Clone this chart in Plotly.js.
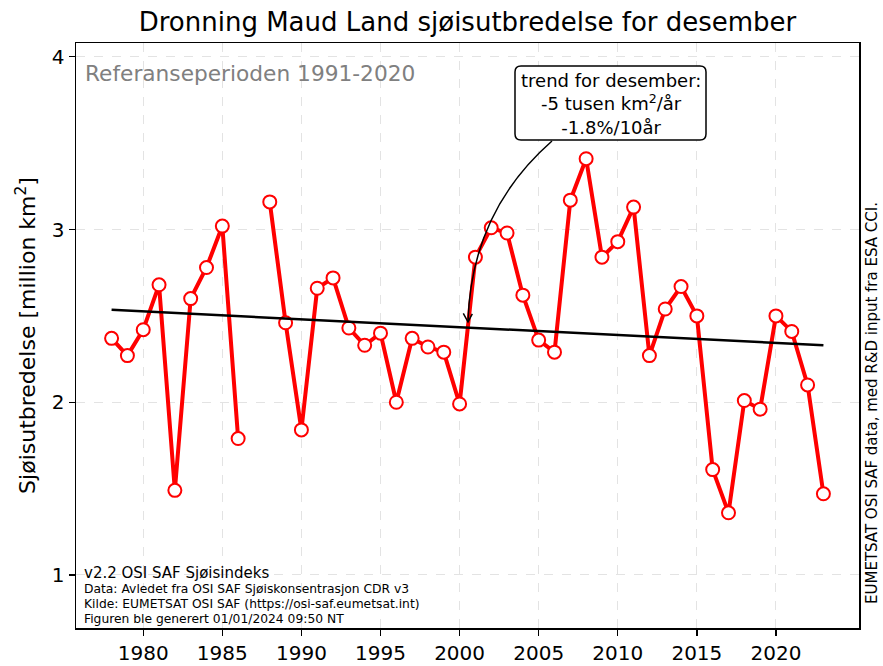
<!DOCTYPE html>
<html>
<head>
<meta charset="utf-8">
<script src="https://cdn.plot.ly/plotly-3.0.1.min.js"></script>
<style>html,body{margin:0;padding:0;background:#fff;}#chart{width:883px;height:666px;}</style>
</head>
<body>
<div id="chart"></div>
<script>
const years = [1978,1979,1980,1981,1982,1983,1984,1985,1986,1987,1988,1989,1990,1991,1992,1993,1994,1995,1996,1997,1998,1999,2000,2001,2002,2003,2004,2005,2006,2007,2008,2009,2010,2011,2012,2013,2014,2015,2016,2017,2018,2019,2020,2021,2022,2023];
const extent = [2.37,2.27,2.42,2.68,1.49,2.60,2.78,3.02,1.79,null,3.16,2.46,1.84,2.66,2.72,2.43,2.33,2.40,2.00,2.37,2.32,2.29,1.99,2.84,3.01,2.98,2.62,2.36,2.29,3.17,3.41,2.84,2.93,3.13,2.27,2.54,2.67,2.50,1.61,1.36,2.01,1.96,2.50,2.41,2.10,1.47];
const trendYears = [1978, 2023];
const trendValues = [2.535, 2.33];
const xTicks = [1980,1985,1990,1995,2000,2005,2010,2015,2020];
const yTicks = [1,2,3,4];

const FONT = 'DejaVu Sans, Verdana, sans-serif';
// pixel -> paper helpers (plot area l=76, r=859, t=43, b=628)
const L=76, R=859, T=43, B=628;
const px = x => (x-L)/(R-L);
const py = y => (B-y)/(B-T);
function P2(x,y){return px(x).toFixed(5)+','+py(y).toFixed(5);}
function roundedBox(x0,y0,x1,y1,r){
  return 'M'+P2(x0+r,y0)+' L'+P2(x1-r,y0)+' Q'+P2(x1,y0)+' '+P2(x1,y0+r)+
         ' L'+P2(x1,y1-r)+' Q'+P2(x1,y1)+' '+P2(x1-r,y1)+
         ' L'+P2(x0+r,y1)+' Q'+P2(x0,y1)+' '+P2(x0,y1-r)+
         ' L'+P2(x0,y0+r)+' Q'+P2(x0,y0)+' '+P2(x0+r,y0)+' Z';
}
const tip=[468,322];
const curve = 'M'+P2(552,141)+' Q'+P2(471,212)+' '+P2(tip[0],tip[1]);
const head = 'M'+P2(tip[0]-4.7,tip[1]-8.7)+' L'+P2(tip[0],tip[1])+' L'+P2(tip[0]+4.3,tip[1]-8.2);

const traces = [
  {x: years, y: extent, type:'scatter', mode:'lines+markers', connectgaps:false,
   line:{color:'#ff0000', width:4},
   marker:{size:13, color:'#ffffff', line:{color:'#ff0000', width:2}},
   hoverinfo:'x+y', showlegend:false},
  {x: trendYears, y: trendValues, type:'scatter', mode:'lines',
   line:{color:'#000000', width:2.5}, showlegend:false, hoverinfo:'skip'}
];

const layout = {
  width:883, height:666,
  margin:{l:L, r:883-R, t:T, b:666-B},
  paper_bgcolor:'#ffffff', plot_bgcolor:'#ffffff',
  font:{family:FONT, color:'#000'},
  title:{text:'Dronning Maud Land sjøisutbredelse for desember', font:{size:26, family:FONT, color:'#000'},
         x:0.5, xref:'paper', xanchor:'center', y:1-22/666, yref:'container', yanchor:'middle'},
  xaxis:{range:[1975.75,2025.25], tickvals:xTicks, ticktext:xTicks.map(String),
         tickfont:{size:20, family:FONT}, ticks:'outside', ticklen:6, tickwidth:1.3, tickcolor:'#000',
         showgrid:true, gridcolor:'#dcdcdc', griddash:'dash', gridwidth:0.8,
         showline:true, linecolor:'#000', linewidth:1.5, mirror:true, zeroline:false},
  yaxis:{range:[0.693,4.08], tickvals:yTicks, ticktext:yTicks.map(String),
         tickfont:{size:20, family:FONT}, ticks:'outside', ticklen:6, tickwidth:1.3, tickcolor:'#000',
         showgrid:true, gridcolor:'#dcdcdc', griddash:'dash', gridwidth:0.8,
         showline:true, linecolor:'#000', linewidth:1.5, mirror:true, zeroline:false,
         title:{text:'Sjøisutbredelse [million km<sup>2</sup>]', font:{size:22, family:FONT}, standoff:10}},
  shapes:[
    {type:'path', xref:'paper', yref:'paper', path:curve, line:{color:'#000', width:1.5}},
    {type:'path', xref:'paper', yref:'paper', path:head, line:{color:'#000', width:1.5}},
    {type:'path', xref:'paper', yref:'paper', path:roundedBox(515,66,706,140,6),
     fillcolor:'#ffffff', line:{color:'#000', width:1.5}}
  ],
  annotations:[
    {xref:'paper', yref:'paper', x:px(610.5), y:py(104), xanchor:'center', yanchor:'middle',
     text:'trend for desember:<br>-5 tusen km<sup>2</sup>/år<br>-1.8%/10år', showarrow:false,
     font:{size:18, family:FONT, color:'#000'}, align:'center'},
    {xref:'paper', yref:'paper', x:px(83), y:py(73), xanchor:'left', yanchor:'middle',
     text:'Referanseperioden 1991-2020', showarrow:false, font:{size:21.7, family:FONT, color:'#808080'}},
    {xref:'paper', yref:'paper', x:px(82), y:py(573), xanchor:'left', yanchor:'middle',
     text:'v2.2 OSI SAF Sjøisindeks', showarrow:false, font:{size:15, family:FONT, color:'#000'}},
    {xref:'paper', yref:'paper', x:px(82), y:py(589), xanchor:'left', yanchor:'middle',
     text:'Data: Avledet fra OSI SAF Sjøiskonsentrasjon CDR v3', showarrow:false, font:{size:12.3, family:FONT, color:'#000'}},
    {xref:'paper', yref:'paper', x:px(82), y:py(604), xanchor:'left', yanchor:'middle',
     text:'Kilde: EUMETSAT OSI SAF (https://osi-saf.eumetsat.int)', showarrow:false, font:{size:12.3, family:FONT, color:'#000'}},
    {xref:'paper', yref:'paper', x:px(82), y:py(619), xanchor:'left', yanchor:'middle',
     text:'Figuren ble generert 01/01/2024 09:50 NT', showarrow:false, font:{size:12.3, family:FONT, color:'#000'}},
    {xref:'paper', yref:'paper', x:px(872), y:py(403), xanchor:'center', yanchor:'middle', textangle:-90,
     text:'EUMETSAT OSI SAF data, med R&D input fra ESA CCI.', showarrow:false,
     font:{size:15, family:FONT, color:'#000'}}
  ]
};

Plotly.newPlot('chart', traces, layout, {displayModeBar:false, staticPlot:true});
</script>
</body>
</html>
